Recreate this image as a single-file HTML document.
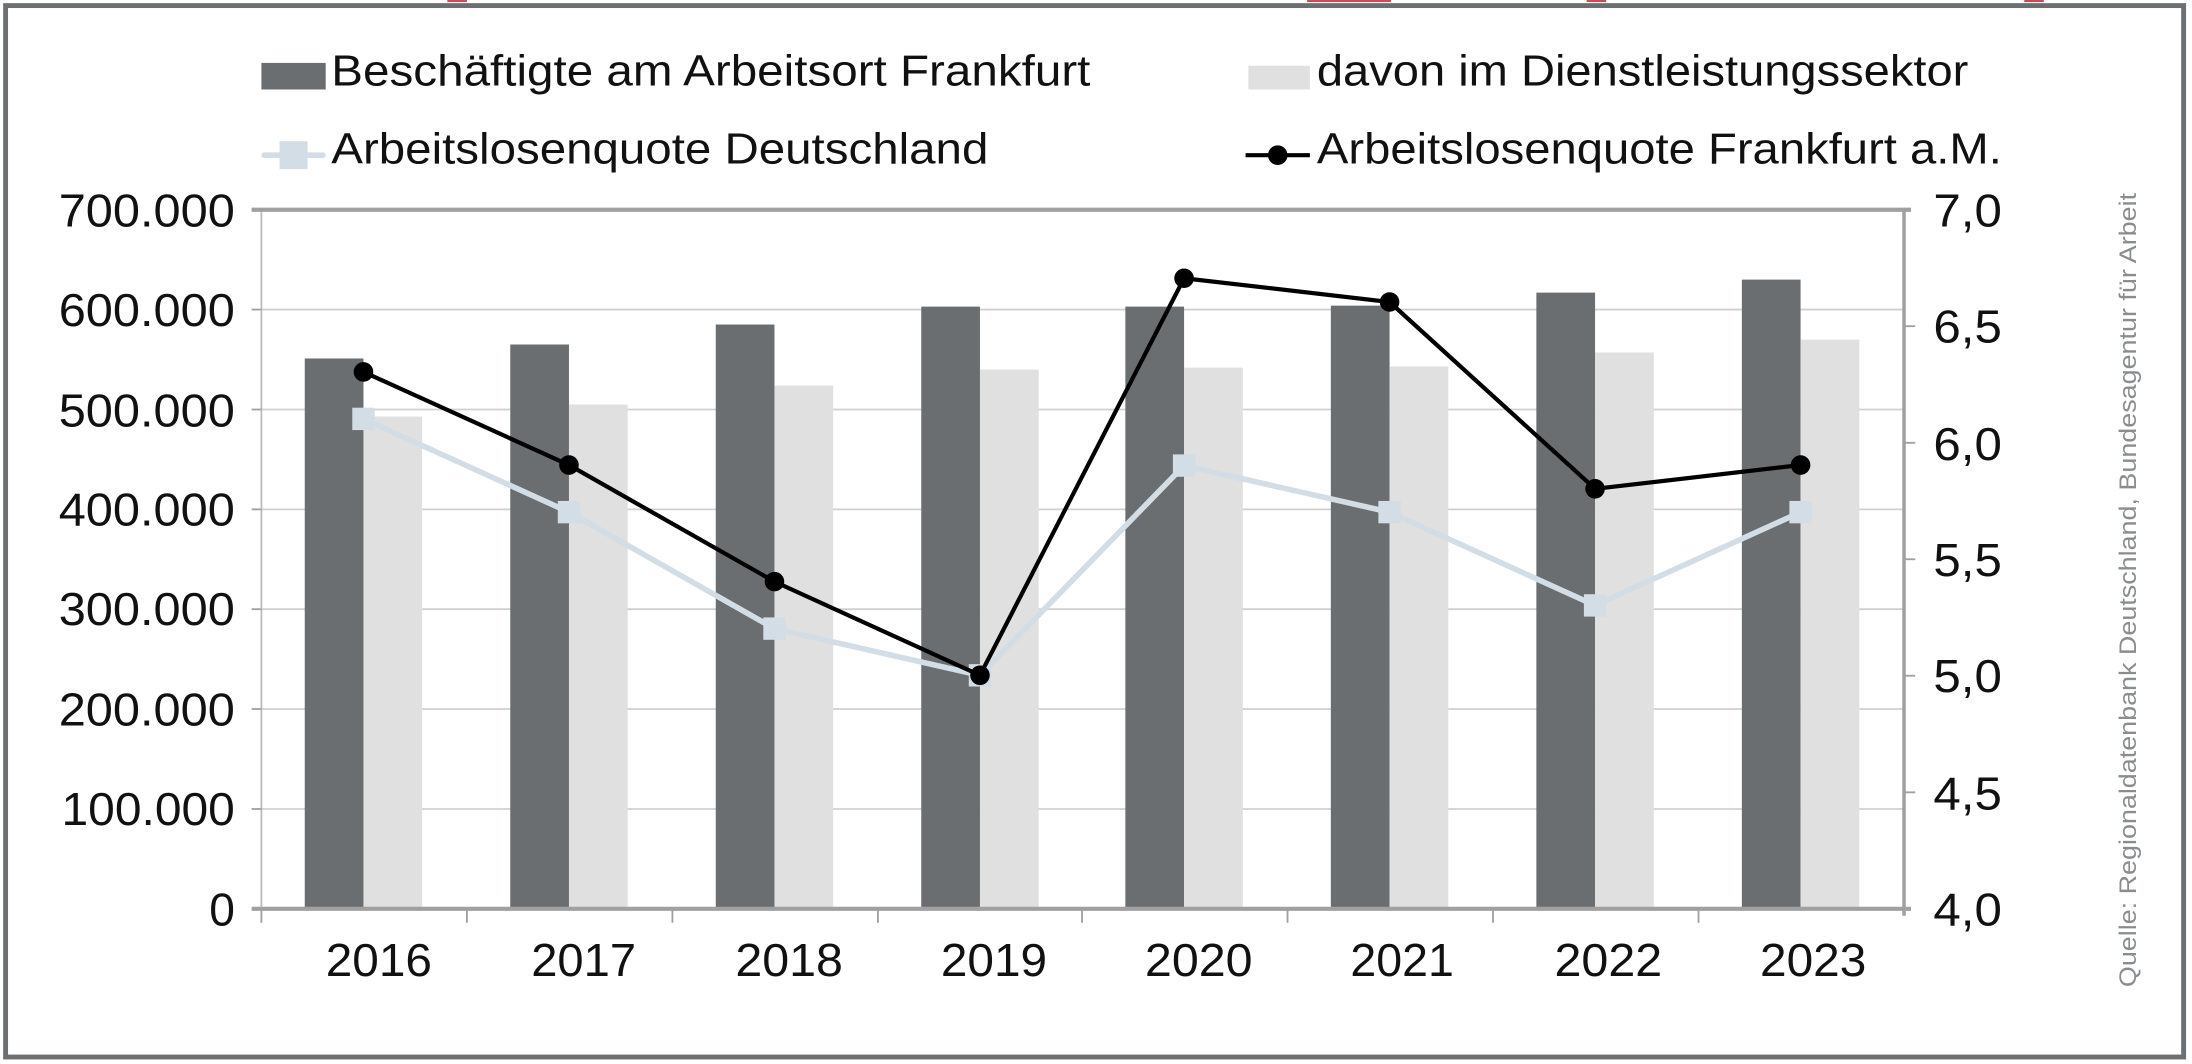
<!DOCTYPE html>
<html><head><meta charset="utf-8"><style>
html,body{margin:0;padding:0;background:#fff;}
svg{display:block;}
text{font-family:"Liberation Sans",sans-serif;}
</style></head><body>
<svg width="2192" height="1064" viewBox="0 0 1568 761" preserveAspectRatio="none" xmlns="http://www.w3.org/2000/svg">
<rect x="0" y="0" width="1568" height="761" fill="#fff"/>
<rect x="4" y="4" width="1558" height="752" fill="none" stroke="#6d7073" stroke-width="3.5"/>
<g fill="#c0505a">
<rect x="320" y="0" width="14" height="1.5"/><rect x="935" y="0" width="60" height="1.5"/><rect x="1135" y="0" width="14" height="1.5"/><rect x="1448" y="0" width="14" height="1.5"/>
</g>
<rect x="187" y="45" width="46" height="19" fill="#6b6e71"/>
<text x="237" y="61" font-size="31" fill="#111" textLength="543" lengthAdjust="spacingAndGlyphs">Beschäftigte am Arbeitsort Frankfurt</text>
<rect x="893" y="47" width="44" height="17" fill="#e0e0e0"/>
<text x="942" y="61" font-size="31" fill="#111" textLength="466" lengthAdjust="spacingAndGlyphs">davon im Dienstleistungssektor</text>
<line x1="189" y1="111" x2="231" y2="111" stroke="#d3dde6" stroke-width="4" stroke-linecap="round"/>
<rect x="200" y="101" width="20" height="20" fill="#d3dde6"/>
<text x="237" y="117" font-size="31" fill="#111" textLength="470" lengthAdjust="spacingAndGlyphs">Arbeitslosenquote Deutschland</text>
<line x1="891" y1="111" x2="937" y2="111" stroke="#000" stroke-width="3"/>
<circle cx="914" cy="111" r="7" fill="#000"/>
<text x="942" y="117" font-size="31" fill="#111" textLength="490" lengthAdjust="spacingAndGlyphs">Arbeitslosenquote Frankfurt a.M.</text>
<g stroke="#d0d0d0" stroke-width="1.3">
<line x1="187" y1="221.4" x2="1362" y2="221.4"/>
<line x1="187" y1="292.9" x2="1362" y2="292.9"/>
<line x1="187" y1="364.3" x2="1362" y2="364.3"/>
<line x1="187" y1="435.7" x2="1362" y2="435.7"/>
<line x1="187" y1="507.1" x2="1362" y2="507.1"/>
<line x1="187" y1="578.6" x2="1362" y2="578.6"/>
</g>
<line x1="187" y1="150" x2="187" y2="650" stroke="#bbb" stroke-width="1.3"/>
<g fill="#6b6e71">
<rect x="218" y="256.4" width="42" height="393.6"/>
<rect x="365" y="246.4" width="42" height="403.6"/>
<rect x="512" y="232.1" width="42" height="417.9"/>
<rect x="659" y="219.3" width="42" height="430.7"/>
<rect x="805" y="219.3" width="42" height="430.7"/>
<rect x="952" y="218.6" width="42" height="431.4"/>
<rect x="1099" y="209.3" width="42" height="440.7"/>
<rect x="1246" y="200" width="42" height="450"/>
</g>
<g fill="#e0e0e0">
<rect x="260" y="297.9" width="42" height="352.1"/>
<rect x="407" y="289.3" width="42" height="360.7"/>
<rect x="554" y="275.7" width="42" height="374.3"/>
<rect x="701" y="264.3" width="42" height="385.7"/>
<rect x="847" y="262.9" width="42" height="387.1"/>
<rect x="994" y="262.1" width="42" height="387.9"/>
<rect x="1141" y="252.1" width="42" height="397.9"/>
<rect x="1288" y="242.9" width="42" height="407.1"/>
</g>
<line x1="180" y1="150" x2="1367" y2="150" stroke="#a0a0a0" stroke-width="3"/>
<line x1="180" y1="650" x2="1367" y2="650" stroke="#a0a0a0" stroke-width="3"/>
<line x1="1362" y1="150" x2="1362" y2="655" stroke="#a0a0a0" stroke-width="2.5"/>
<g stroke="#a0a0a0" stroke-width="1.3">
<line x1="187" y1="650" x2="187" y2="660"/><line x1="334" y1="650" x2="334" y2="660"/><line x1="481" y1="650" x2="481" y2="660"/><line x1="628" y1="650" x2="628" y2="660"/><line x1="774" y1="650" x2="774" y2="660"/><line x1="921" y1="650" x2="921" y2="660"/><line x1="1068" y1="650" x2="1068" y2="660"/><line x1="1215" y1="650" x2="1215" y2="660"/>
<line x1="1362" y1="233.3" x2="1370" y2="233.3"/><line x1="1362" y1="316.7" x2="1370" y2="316.7"/><line x1="1362" y1="400" x2="1370" y2="400"/><line x1="1362" y1="483.3" x2="1370" y2="483.3"/><line x1="1362" y1="566.7" x2="1370" y2="566.7"/>
<line x1="180" y1="221.4" x2="187" y2="221.4"/><line x1="180" y1="292.9" x2="187" y2="292.9"/><line x1="180" y1="364.3" x2="187" y2="364.3"/><line x1="180" y1="435.7" x2="187" y2="435.7"/><line x1="180" y1="507.1" x2="187" y2="507.1"/><line x1="180" y1="578.6" x2="187" y2="578.6"/>
</g>
<polyline points="260,299.6 407,366.3 554,449.6 701,483 847,333 994,366.3 1141,433 1288,366.3" fill="none" stroke="#d3dde6" stroke-width="4"/>
<g fill="#d3dde6">
<rect x="252" y="291.6" width="16" height="16"/><rect x="399" y="358.3" width="16" height="16"/><rect x="546" y="441.6" width="16" height="16"/><rect x="693" y="475" width="16" height="16"/><rect x="839" y="325" width="16" height="16"/><rect x="986" y="358.3" width="16" height="16"/><rect x="1133" y="425" width="16" height="16"/><rect x="1280" y="358.3" width="16" height="16"/>
</g>
<polyline points="260,266 407,332.6 554,416 701,483 847,199 994,216 1141,349.6 1288,332.6" fill="none" stroke="#000" stroke-width="3"/>
<g fill="#000">
<circle cx="260" cy="266" r="7"/><circle cx="407" cy="332.6" r="7"/><circle cx="554" cy="416" r="7"/><circle cx="701" cy="483" r="7"/><circle cx="847" cy="199" r="7"/><circle cx="994" cy="216" r="7"/><circle cx="1141" cy="349.6" r="7"/><circle cx="1288" cy="332.6" r="7"/>
</g>
<g font-size="33" fill="#111">
<text x="42" y="162" textLength="126" lengthAdjust="spacingAndGlyphs">700.000</text>
<text x="42" y="233" textLength="126" lengthAdjust="spacingAndGlyphs">600.000</text>
<text x="42" y="305" textLength="126" lengthAdjust="spacingAndGlyphs">500.000</text>
<text x="42" y="376" textLength="126" lengthAdjust="spacingAndGlyphs">400.000</text>
<text x="42" y="447" textLength="126" lengthAdjust="spacingAndGlyphs">300.000</text>
<text x="42" y="519" textLength="126" lengthAdjust="spacingAndGlyphs">200.000</text>
<text x="44" y="590" textLength="124" lengthAdjust="spacingAndGlyphs">100.000</text>
<text x="168" y="662" text-anchor="end">0</text>
</g>
<g font-size="33" fill="#111">
<text x="1383" y="162" textLength="49" lengthAdjust="spacingAndGlyphs">7,0</text>
<text x="1383" y="245" textLength="49" lengthAdjust="spacingAndGlyphs">6,5</text>
<text x="1383" y="329" textLength="49" lengthAdjust="spacingAndGlyphs">6,0</text>
<text x="1383" y="412" textLength="49" lengthAdjust="spacingAndGlyphs">5,5</text>
<text x="1383" y="495" textLength="49" lengthAdjust="spacingAndGlyphs">5,0</text>
<text x="1383" y="579" textLength="49" lengthAdjust="spacingAndGlyphs">4,5</text>
<text x="1383" y="662" textLength="49" lengthAdjust="spacingAndGlyphs">4,0</text>
</g>
<g font-size="33" fill="#111">
<text x="233" y="698" textLength="76" lengthAdjust="spacingAndGlyphs">2016</text>
<text x="380" y="698" textLength="75" lengthAdjust="spacingAndGlyphs">2017</text>
<text x="526" y="698" textLength="77" lengthAdjust="spacingAndGlyphs">2018</text>
<text x="673" y="698" textLength="76" lengthAdjust="spacingAndGlyphs">2019</text>
<text x="819" y="698" textLength="77" lengthAdjust="spacingAndGlyphs">2020</text>
<text x="966" y="698" textLength="74" lengthAdjust="spacingAndGlyphs">2021</text>
<text x="1112" y="698" textLength="77" lengthAdjust="spacingAndGlyphs">2022</text>
<text x="1259" y="698" textLength="76" lengthAdjust="spacingAndGlyphs">2023</text>
</g>
<text transform="translate(1528,706) rotate(-90)" font-size="17" fill="#8a8d90" textLength="568" lengthAdjust="spacingAndGlyphs">Quelle: Regionaldatenbank Deutschland, Bundesagentur für Arbeit</text>
</svg>
</body></html>
